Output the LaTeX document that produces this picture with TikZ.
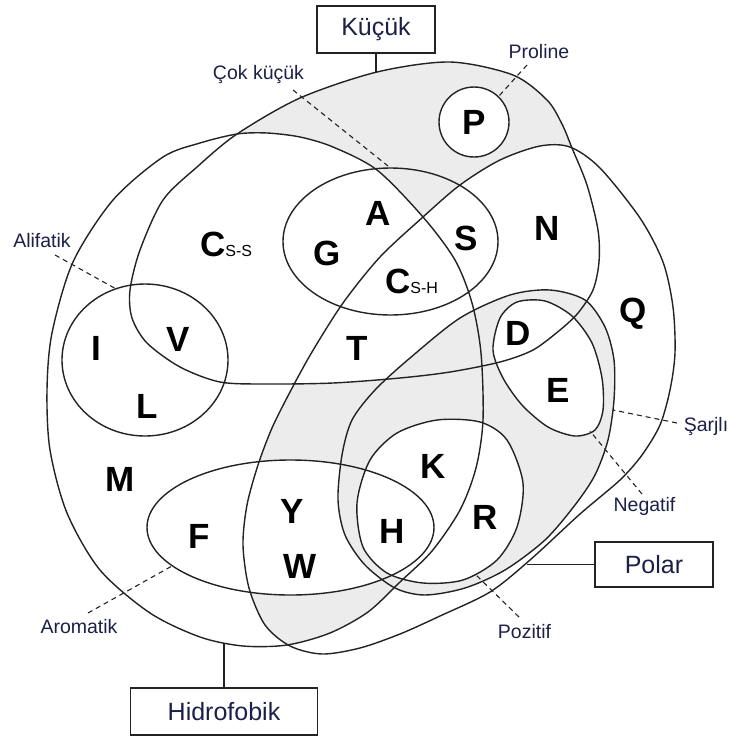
\documentclass[tikz,border=0pt]{standalone}
\usepackage{fontspec}
\setmainfont{Liberation Sans}
\definecolor{navy}{RGB}{28,32,72}
\definecolor{paleg}{RGB}{236,236,236}
\definecolor{ink}{RGB}{35,35,35}
\newcommand\bigfont{\fontsize{35}{35}\selectfont\bfseries}
\newcommand\subfont{\fontsize{16}{16}\selectfont\mdseries}
\newcommand\lblfont{\fontsize{19.5}{20}\selectfont}
\newcommand\boxfont{\fontsize{25}{26}\selectfont}
\newcommand\hydP{plot[smooth cycle] coordinates {(47,390) (52,333) (73,262) (113,200) (163,157) (200,143) (237,134) (267,133) (300,137) (333,147) (377,170) (423,217) (455,260) (472,303) (481,353) (483,420) (476,468) (460,510) (432,551) (400,582) (368,612) (330,633) (287,645) (243,646) (200,637) (150,613) (100,570) (67,513) (50,450)}}
\newcommand\smallP{plot[smooth cycle] coordinates {(237,134) (300,98) (377,72) (450,62) (513,75) (547,100) (562,124) (572,148) (587,185) (598,230) (599,262) (593,290) (578,313) (560,330) (533,350) (500,362) (450,372) (400,378) (333,383) (267,384) (220,382) (180,367) (147,343) (132,318) (130,290) (140,250) (163,200) (197,167)}}
\newcommand\polarP{plot[smooth cycle] coordinates {(570,147) (600,168) (640,218) (663,262) (673,307) (675,353) (670,390) (660,425) (642,455) (620,480) (580,514) (530,560) (490,592) (440,616) (400,634) (360,648) (322,654) (290,646) (265,625) (249,588) (243,545) (247,505) (258,465) (272,428) (290,392) (312,352) (343,303) (380,257) (423,217) (460,185) (500,160) (540,146)}}
\newcommand\chargedP{plot[smooth cycle] coordinates {(338,500) (342,455) (352,420) (375,390) (410,358) (460,318) (510,295) (550,290) (585,300) (605,327) (614,360) (614,400) (608,440) (595,475) (575,505) (545,540) (505,570) (465,588) (425,595) (395,588) (365,565) (345,535)}}
\newcommand\posP{plot[smooth cycle] coordinates {(357,503) (370,460) (397,433) (437,420) (480,422) (507,440) (523,483) (517,527) (497,560) (463,580) (423,583) (387,573) (363,547)}}
\newcommand\negP{plot[smooth cycle] coordinates {(493,350) (500,318) (517,302) (545,301) (572,316) (592,343) (602,378) (603,410) (595,430) (575,436) (548,427) (522,405) (503,378)}}
\newcommand\aromP{(290.5,527.5) ellipse [x radius=143.5, y radius=67.5]}
\begin{document}
\begin{tikzpicture}[x=1pt,y=-1pt,
  outl/.style={draw=ink, line width=1.4pt},
  lead/.style={draw=ink, line width=1.1pt, dash pattern=on 5pt off 4pt},
  aa/.style={font=\bigfont, inner sep=0pt, text=black, anchor=base},
  lbl/.style={font=\lblfont, text=navy, inner sep=0pt, anchor=base},
  boxlbl/.style={draw=ink, line width=1.4pt, font=\boxfont, text=navy, inner sep=0pt, fill=white}]
\useasboundingbox (0,0) rectangle (731,740);
% grey: small only
\begin{scope}
  \clip \smallP;
  \fill[paleg] \smallP;
  \fill[white] \hydP;
  \fill[white] \polarP;
\end{scope}
% grey: polar and hydrophobic, outside small and aromatic
\begin{scope}
  \clip \polarP;
  \clip \hydP;
  \fill[paleg] (0,0) rectangle (731,740);
  \fill[white] \smallP;
  \fill[white] \aromP;
\end{scope}
% grey: charged
\fill[paleg] \chargedP;
\fill[white] \posP;
\fill[white] \negP;
% outlines
\draw[outl] \hydP;
\draw[outl] \smallP;
\draw[outl] \polarP;
\draw[outl] \chargedP;
\draw[outl] \posP;
\draw[outl] \negP;
\draw[outl] \aromP;
\draw[outl] (390.5,241.5) ellipse [x radius=107.5, y radius=73.5];
\draw[outl] (145,360) ellipse [x radius=83, y radius=76];
\draw[outl, fill=white] (474,122) circle [radius=35];
% letters
\node[aa] (lP) at (474,134) {P};
\node[aa] (lA) at (378,225) {A};
\node[aa] (lS) at (466,250) {S};
\node[aa] (lN) at (547,240) {N};
\node[aa] (lG) at (327,265) {G};
\node[aa] (lT) at (357,360) {T};
\node[aa] (lI) at (96,360) {I};
\node[aa] (lV) at (178,351) {V};
\node[aa] (lL) at (147,418) {L};
\node[aa] (lM) at (120,491) {M};
\node[aa] (lF) at (199,548) {F};
\node[aa] (lY) at (292,523) {Y};
\node[aa] (lW) at (300,578) {W};
\node[aa] (lH) at (392,543) {H};
\node[aa] (lK) at (433,478) {K};
\node[aa] (lR) at (485,529) {R};
\node[aa] (lD) at (518,345) {D};
\node[aa] (lE) at (558,402) {E};
\node[aa] (lQ) at (633,322) {Q};
\node[aa, anchor=base west] (lCss) at (200,256) {C\subfont S-S};
\node[aa, anchor=base west] (lCsh) at (385,293) {C\subfont S-H};
% labels
\node[lbl] (tCok) at (258.5,79) {Çok küçük};
\node[lbl] (tPro) at (539,58) {Proline};
\node[lbl] (tAli) at (42,247) {Alifatik};
\node[lbl] (tAro) at (79,633) {Aromatik};
\node[lbl] (tSar) at (706,431) {Şarjlı};
\node[lbl] (tNeg) at (644.5,511) {Negatif};
\node[lbl] (tPoz) at (524.5,638) {Pozitif};
\coordinate (cokA) at (293,90);  \coordinate (cokB) at (388,166);
\coordinate (proA) at (527,65);  \coordinate (proB) at (499,96);
\coordinate (aliA) at (55,255);  \coordinate (aliB) at (118,290);
\coordinate (aroA) at (88,613);  \coordinate (aroB) at (172,566);
\coordinate (sarA) at (677,423); \coordinate (sarB) at (613,410);
\coordinate (negA) at (642,494); \coordinate (negB) at (590,431);
\coordinate (pozA) at (519,617); \coordinate (pozB) at (475,574);
\draw[lead] (cokA) -- (cokB);
\draw[lead] (proA) -- (proB);
\draw[lead] (aliA) -- (aliB);
\draw[lead] (aroA) -- (aroB);
\draw[lead] (sarA) -- (sarB);
\draw[lead] (negA) -- (negB);
\draw[lead] (pozA) -- (pozB);
% boxes
\node[boxlbl, minimum width=118pt, minimum height=47pt] (bKuc) at (376,29.5) {Küçük};
\node[boxlbl, minimum width=118pt, minimum height=45pt] (bPol) at (654,564.5) {Polar};
\node[boxlbl, minimum width=187pt, minimum height=47pt] (bHid) at (224,711.5) {Hidrofobik};
\coordinate (kucE) at (376,72);
\coordinate (polE) at (527,564.5);
\coordinate (hidE) at (224,643);
\draw[ink, line width=1.4pt] (bKuc.south) -- (kucE);
\draw[ink, line width=1.4pt] (bPol.west) -- (polE);
\draw[ink, line width=1.4pt] (bHid.north) -- (hidE);
\end{tikzpicture}
\end{document}
